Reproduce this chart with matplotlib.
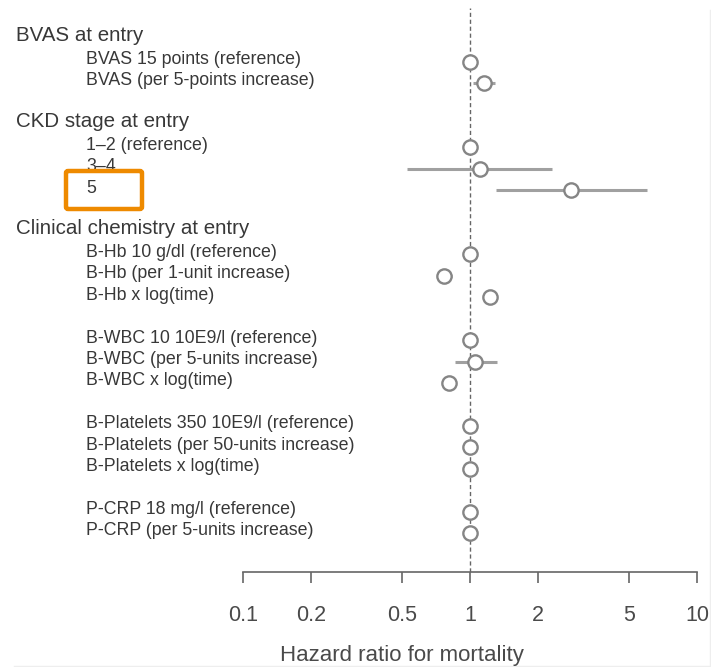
import matplotlib
matplotlib.use("Agg")
import matplotlib.pyplot as plt
import matplotlib.patches as patches
from matplotlib.lines import Line2D

plt.rcParams['font.family'] = ['Liberation Sans', 'DejaVu Sans']

# group headers and the row (first item index) they sit above
headers = ['BVAS at entry', 'CKD stage at entry', 'Clinical chemistry at entry']
header_rows = [0, 4, 9]

labels = ['BVAS 15 points (reference)', 'BVAS (per 5-points increase)',
          '1\u20132 (reference)', '3\u20134', '5',
          'B-Hb 10 g/dl (reference)', 'B-Hb (per 1-unit increase)', 'B-Hb x log(time)',
          'B-WBC 10 10E9/l (reference)', 'B-WBC (per 5-units increase)', 'B-WBC x log(time)',
          'B-Platelets 350 10E9/l (reference)', 'B-Platelets (per 50-units increase)',
          'B-Platelets x log(time)',
          'P-CRP 18 mg/l (reference)', 'P-CRP (per 5-units increase)']
rows = [0, 1, 4, 5, 6, 9, 10, 11, 13, 14, 15, 17, 18, 19, 21, 22]
hr = [1.0, 1.15, 1.0, 1.11, 2.79, 1.0, 0.77, 1.22, 1.0, 1.05, 0.81, 1.0, 1.0, 1.0, 1.0, 1.0]
ci_low = [1.0, 1.03, 1.0, 0.53, 1.30, 1.0, 0.72, 1.19, 1.0, 0.86, 0.79, 1.0, 0.98, 0.99, 1.0, 0.99]
ci_high = [1.0, 1.29, 1.0, 2.30, 6.0, 1.0, 0.83, 1.26, 1.0, 1.31, 0.84, 1.0, 1.02, 1.01, 1.0, 1.01]

ticks = [0.1, 0.2, 0.5, 1, 2, 5, 10]
tick_labels = ['0.1', '0.2', '0.5', '1', '2', '5', '10']

W, H = 711, 667
fig = plt.figure(figsize=(W / 100, H / 100), dpi=100)
ax = fig.add_axes([243 / W, (H - 572) / H, (697 - 243) / W, (572 - 8) / H])

txt = '#383838'
grey = '#858585'

ax.axvline(1, ls=(0, (3, 2)), color='#666666', lw=1, zorder=1)
ax.hlines(rows, ci_low, ci_high, color='#a0a0a0', lw=2.2, zorder=2)
ax.plot(hr, rows, 'o', ms=10.3, mfc='white', mec=grey, mew=1.7, ls='none', zorder=3)

ax.set_xscale('log')
ax.set_xlim(0.1, 10)
ax.set_ylim(23.82, -2.5)
for s in ['left', 'top', 'right']:
    ax.spines[s].set_visible(False)
ax.spines['bottom'].set_color('#666666')
ax.spines['bottom'].set_linewidth(1.2)
ax.set_yticks([])
ax.set_xticks(ticks)
ax.set_xticklabels(tick_labels)
ax.minorticks_off()
ax.tick_params(axis='x', direction='out', length=8, width=1.2, color='#666666',
               pad=16, labelsize=15.5, labelcolor='#4a4a4a')

# row labels
trans = matplotlib.transforms.blended_transform_factory(fig.transFigure, ax.transData)
for h, r in zip(headers, header_rows):
    ax.text(16 / W, r - 1.2, h, transform=trans, ha='left', va='center',
            fontsize=14.8, color=txt)
for lab, r in zip(labels, rows):
    ax.text(86 / W, r - 0.1, lab, transform=trans, ha='left', va='center',
            fontsize=12.8, color=txt)

fig.text(402 / W, (H - 655) / H, 'Hazard ratio for mortality', ha='center', va='center',
         fontsize=16, color='#4a4a4a')

# orange highlight box
box = patches.FancyBboxPatch((66 / W, (H - 209) / H), 76 / W, 38 / H,
                             boxstyle='round,pad=0,rounding_size=0.003',
                             transform=fig.transFigure, fill=False,
                             edgecolor='#EE8A00', lw=3.2, zorder=5)
fig.add_artist(box)

# faint screenshot border
fig.add_artist(Line2D([710 / W, 710 / W], [0, (H - 10) / H], transform=fig.transFigure,
                      color='#eeeeee', lw=1))
fig.add_artist(Line2D([14 / W, 1], [1.5 / H, 1.5 / H], transform=fig.transFigure,
                      color='#eeeeee', lw=1))

fig.savefig('out.png', dpi=100)
